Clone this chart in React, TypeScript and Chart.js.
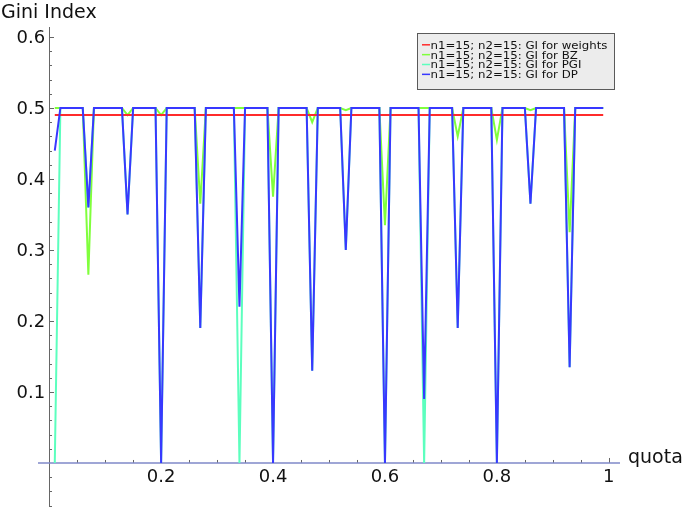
import React, { useEffect, useRef } from "react";
import { Chart, registerables } from "chart.js";

Chart.register(...registerables);

const quota = [
  0.01, 0.02, 0.03, 0.04, 0.05, 0.06, 0.07, 0.08, 0.09, 0.1,
  0.11, 0.12, 0.13, 0.14, 0.15, 0.16, 0.17, 0.18, 0.19, 0.2,
  0.21, 0.22, 0.23, 0.24, 0.25, 0.26, 0.27, 0.28, 0.29, 0.3,
  0.31, 0.32, 0.33, 0.34, 0.35, 0.36, 0.37, 0.38, 0.39, 0.4,
  0.41, 0.42, 0.43, 0.44, 0.45, 0.46, 0.47, 0.48, 0.49, 0.5,
  0.51, 0.52, 0.53, 0.54, 0.55, 0.56, 0.57, 0.58, 0.59, 0.6,
  0.61, 0.62, 0.63, 0.64, 0.65, 0.66, 0.67, 0.68, 0.69, 0.7,
  0.71, 0.72, 0.73, 0.74, 0.75, 0.76, 0.77, 0.78, 0.79, 0.8,
  0.81, 0.82, 0.83, 0.84, 0.85, 0.86, 0.87, 0.88, 0.89, 0.9,
  0.91, 0.92, 0.93, 0.94, 0.95, 0.96, 0.97, 0.98, 0.99,
];

const giWeights = [
  0.49, 0.49, 0.49, 0.49, 0.49, 0.49, 0.49, 0.49, 0.49, 0.49,
  0.49, 0.49, 0.49, 0.49, 0.49, 0.49, 0.49, 0.49, 0.49, 0.49,
  0.49, 0.49, 0.49, 0.49, 0.49, 0.49, 0.49, 0.49, 0.49, 0.49,
  0.49, 0.49, 0.49, 0.49, 0.49, 0.49, 0.49, 0.49, 0.49, 0.49,
  0.49, 0.49, 0.49, 0.49, 0.49, 0.49, 0.49, 0.49, 0.49, 0.49,
  0.49, 0.49, 0.49, 0.49, 0.49, 0.49, 0.49, 0.49, 0.49, 0.49,
  0.49, 0.49, 0.49, 0.49, 0.49, 0.49, 0.49, 0.49, 0.49, 0.49,
  0.49, 0.49, 0.49, 0.49, 0.49, 0.49, 0.49, 0.49, 0.49, 0.49,
  0.49, 0.49, 0.49, 0.49, 0.49, 0.49, 0.49, 0.49, 0.49, 0.49,
  0.49, 0.49, 0.49, 0.49, 0.49, 0.49, 0.49, 0.49, 0.49,
];

const giBZ = [
  0.5, 0.5, 0.5, 0.5, 0.5, 0.5, 0.265, 0.5, 0.5, 0.5,
  0.5, 0.5, 0.5, 0.49, 0.5, 0.5, 0.5, 0.5, 0.5, 0.49,
  0.5, 0.5, 0.5, 0.5, 0.5, 0.5, 0.365, 0.5, 0.5, 0.5,
  0.5, 0.5, 0.5, 0.5, 0.5, 0.5, 0.5, 0.5, 0.5, 0.375,
  0.5, 0.5, 0.5, 0.5, 0.5, 0.5, 0.48, 0.5, 0.5, 0.5,
  0.5, 0.5, 0.497, 0.5, 0.5, 0.5, 0.5, 0.5, 0.5, 0.335,
  0.5, 0.5, 0.5, 0.5, 0.5, 0.5, 0.5, 0.5, 0.5, 0.5,
  0.5, 0.5, 0.46, 0.5, 0.5, 0.5, 0.5, 0.5, 0.5, 0.455,
  0.5, 0.5, 0.5, 0.5, 0.5, 0.497, 0.5, 0.5, 0.5, 0.5,
  0.5, 0.5, 0.325, 0.5, 0.5, 0.5, 0.5, 0.5, 0.5,
];

const giPGI = [
  0, 0.5, 0.5, 0.5, 0.5, 0.5, 0.36, 0.5, 0.5, 0.5,
  0.5, 0.5, 0.5, 0.35, 0.5, 0.5, 0.5, 0.5, 0.5, 0,
  0.5, 0.5, 0.5, 0.5, 0.5, 0.5, 0.19, 0.5, 0.5, 0.5,
  0.5, 0.5, 0.5, 0, 0.5, 0.5, 0.5, 0.5, 0.5, 0,
  0.5, 0.5, 0.5, 0.5, 0.5, 0.5, 0.13, 0.5, 0.5, 0.5,
  0.5, 0.5, 0.3, 0.5, 0.5, 0.5, 0.5, 0.5, 0.5, 0,
  0.5, 0.5, 0.5, 0.5, 0.5, 0.5, 0, 0.5, 0.5, 0.5,
  0.5, 0.5, 0.19, 0.5, 0.5, 0.5, 0.5, 0.5, 0.5, 0,
  0.5, 0.5, 0.5, 0.5, 0.5, 0.365, 0.5, 0.5, 0.5, 0.5,
  0.5, 0.5, 0.135, 0.5, 0.5, 0.5, 0.5, 0.5, 0.5,
];

const giDP = [
  0.44, 0.5, 0.5, 0.5, 0.5, 0.5, 0.36, 0.5, 0.5, 0.5,
  0.5, 0.5, 0.5, 0.35, 0.5, 0.5, 0.5, 0.5, 0.5, 0,
  0.5, 0.5, 0.5, 0.5, 0.5, 0.5, 0.19, 0.5, 0.5, 0.5,
  0.5, 0.5, 0.5, 0.22, 0.5, 0.5, 0.5, 0.5, 0.5, 0,
  0.5, 0.5, 0.5, 0.5, 0.5, 0.5, 0.13, 0.5, 0.5, 0.5,
  0.5, 0.5, 0.3, 0.5, 0.5, 0.5, 0.5, 0.5, 0.5, 0,
  0.5, 0.5, 0.5, 0.5, 0.5, 0.5, 0.09, 0.5, 0.5, 0.5,
  0.5, 0.5, 0.19, 0.5, 0.5, 0.5, 0.5, 0.5, 0.5, 0,
  0.5, 0.5, 0.5, 0.5, 0.5, 0.365, 0.5, 0.5, 0.5, 0.5,
  0.5, 0.5, 0.135, 0.5, 0.5, 0.5, 0.5, 0.5, 0.5,
];

const seriesLabels = [
  "n1=15; n2=15: GI for weights",
  "n1=15; n2=15: GI for BZ",
  "n1=15; n2=15: GI for PGI",
  "n1=15; n2=15: GI for DP",
];

const xMajorTicks = [0.2, 0.4, 0.6, 0.8, 1];
const xMajorLabels = ["0.2", "0.4", "0.6", "0.8", "1"];
const xMinorTicks = [0.05, 0.1, 0.15, 0.25, 0.3, 0.35, 0.45, 0.5, 0.55, 0.65, 0.7, 0.75, 0.85, 0.9, 0.95];
const yMajorTicks = [0.1, 0.2, 0.3, 0.4, 0.5, 0.6];
const yMajorLabels = ["0.1", "0.2", "0.3", "0.4", "0.5", "0.6"];
const yMinorTicks = [
  -0.06, -0.04, -0.02, 0.02, 0.04, 0.06, 0.08, 0.12, 0.14, 0.16, 0.18,
  0.22, 0.24, 0.26, 0.28, 0.32, 0.34, 0.36, 0.38, 0.42, 0.44, 0.46, 0.48,
  0.52, 0.54, 0.56, 0.58,
];

const COLORS = ["#ff2b2b", "#80ff3c", "#5cffbe", "#3838ff"];
const FONT = "'DejaVu Sans', sans-serif";

const axesPlugin = {
  id: "mathAxes",
  beforeDatasetsDraw(chart: any) {
    const ctx = chart.ctx;
    const xs = chart.scales.x;
    const ys = chart.scales.y;
    const area = chart.chartArea;
    const x0 = xs.getPixelForValue(0);
    const y0 = ys.getPixelForValue(0);
    ctx.save();
    ctx.strokeStyle = "#666666";
    ctx.lineWidth = 1;
    ctx.beginPath();
    ctx.moveTo(Math.round(x0) + 0.5, area.top);
    ctx.lineTo(Math.round(x0) + 0.5, area.bottom);
    ctx.stroke();
    ctx.beginPath();
    for (const v of yMajorTicks) {
      const py = Math.round(ys.getPixelForValue(v)) + 0.5;
      ctx.moveTo(Math.round(x0), py);
      ctx.lineTo(Math.round(x0) + 5, py);
    }
    for (const v of yMinorTicks) {
      const py = Math.round(ys.getPixelForValue(v)) + 0.5;
      ctx.moveTo(Math.round(x0), py);
      ctx.lineTo(Math.round(x0) + 3, py);
    }
    ctx.stroke();
    ctx.beginPath();
    for (const v of xMajorTicks) {
      const px = Math.round(xs.getPixelForValue(v)) + 0.5;
      ctx.moveTo(px, y0);
      ctx.lineTo(px, y0 - 5);
    }
    for (const v of xMinorTicks) {
      const px = Math.round(xs.getPixelForValue(v)) + 0.5;
      ctx.moveTo(px, y0);
      ctx.lineTo(px, y0 - 3);
    }
    ctx.stroke();
    ctx.strokeStyle = "#7f89c9";
    ctx.lineWidth = 1.6;
    ctx.beginPath();
    ctx.moveTo(area.left, y0);
    ctx.lineTo(area.right, y0);
    ctx.stroke();

    ctx.fillStyle = "#111111";
    ctx.font = `18px ${FONT}`;
    ctx.textBaseline = "alphabetic";
    ctx.textAlign = "right";
    yMajorTicks.forEach((v, i) => {
      const py = ys.getPixelForValue(v);
      ctx.fillText(yMajorLabels[i], x0 - 4, py + 6.5);
    });
    ctx.textAlign = "center";
    xMajorTicks.forEach((v, i) => {
      const px = xs.getPixelForValue(v);
      ctx.fillText(xMajorLabels[i], px, y0 + 19);
    });
    ctx.font = `19px ${FONT}`;
    ctx.textAlign = "left";
    ctx.fillText("quota", area.right + 8, y0);
    ctx.fillText("Gini Index", 1, 18);
    ctx.restore();
  },
  afterDraw(chart: any) {
    const ctx = chart.ctx;
    ctx.save();
    const bx = 417.5, by = 33.5, bw = 197, bh = 56;
    ctx.fillStyle = "#ececec";
    ctx.fillRect(bx, by, bw, bh);
    ctx.strokeStyle = "#5a5a5a";
    ctx.lineWidth = 1;
    ctx.strokeRect(bx, by, bw, bh);
    ctx.font = `10.5px ${FONT}`;
    const w = ctx.measureText(seriesLabels[0]).width;
    const sx = 177 / w;
    ctx.textAlign = "left";
    ctx.textBaseline = "alphabetic";
    seriesLabels.forEach((lab, i) => {
      const cy = 44.8 + i * 9.85;
      ctx.strokeStyle = COLORS[i];
      ctx.lineWidth = 1.5;
      ctx.beginPath();
      ctx.moveTo(422, cy);
      ctx.lineTo(430, cy);
      ctx.stroke();
      ctx.fillStyle = "#111111";
      ctx.save();
      ctx.translate(430.5, cy + 3.9);
      ctx.scale(sx, 1);
      ctx.fillText(lab, 0, 0);
      ctx.restore();
    });
    ctx.restore();
  },
};

export default function App() {
  const ref = useRef<HTMLCanvasElement | null>(null);
  useEffect(() => {
    if (!ref.current) return;
    const series = [giWeights, giBZ, giPGI, giDP];
    const orders = [1, 3, 2, 0];
    const chart = new Chart(ref.current, {
      type: "line",
      data: {
        datasets: series.map((s, i) => ({
          label: seriesLabels[i],
          data: quota.map((q, j) => ({ x: q, y: s[j] })),
          borderColor: COLORS[i],
          backgroundColor: COLORS[i],
          borderWidth: 2,
          pointRadius: 0,
          tension: 0,
          fill: false,
          order: orders[i],
        })),
      },
      options: {
        responsive: false,
        devicePixelRatio: 1,
        animation: false,
        layout: { padding: { left: 38, right: 65, top: 27, bottom: 4 } },
        scales: {
          x: { type: "linear", min: -0.02, max: 1.02, display: false },
          y: { type: "linear", min: -0.062, max: 0.614, display: false },
        },
        plugins: {
          legend: { display: false },
          tooltip: { enabled: false },
        },
      },
      plugins: [axesPlugin],
    });
    return () => chart.destroy();
  }, []);
  return (
    <div style={{ position: "absolute", left: 0, top: 0, width: 685, height: 511, background: "#ffffff" }}>
      <canvas ref={ref} width={685} height={511} />
    </div>
  );
}
